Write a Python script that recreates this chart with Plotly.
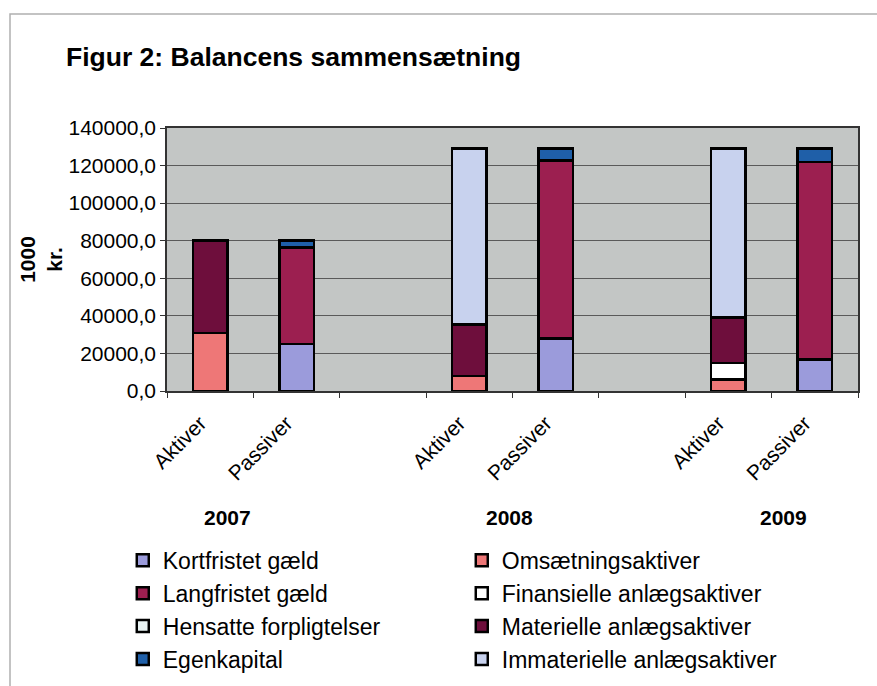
import plotly.graph_objects as go

# ---- data ----
categories = ["2007 Aktiver", "2007 Passiver", " ", "2008 Aktiver", "2008 Passiver", "  ",
              "2009 Aktiver", "2009 Passiver"]
tick_labels = ["Aktiver", "Passiver", "", "Aktiver", "Passiver", "", "Aktiver", "Passiver"]
aktiver_x = ["2007 Aktiver", "2008 Aktiver", "2009 Aktiver"]
passiver_x = ["2007 Passiver", "2008 Passiver", "2009 Passiver"]
years = ["2007", "2008", "2009"]

kortfristet_gaeld = [25000, 28000, 16700]
langfristet_gaeld = [51400, 94600, 105300]
hensatte_forpligtelser = [0, 0, 0]
egenkapital = [3600, 6400, 7000]

omsaetningsaktiver = [31000, 8000, 6000]
finansielle_anlaeg = [0, 0, 9000]
materielle_anlaeg = [49000, 27500, 24000]
immaterielle_anlaeg = [0, 93500, 90000]

# legend order fills row-wise: col1 = liabilities, col2 = assets
series = [
    ("Kortfristet gæld", passiver_x, kortfristet_gaeld, "#9B9BDB"),
    ("Omsætningsaktiver", aktiver_x, omsaetningsaktiver, "#EE7777"),
    ("Langfristet gæld", passiver_x, langfristet_gaeld, "#9C1F50"),
    ("Finansielle anlægsaktiver", aktiver_x, finansielle_anlaeg, "#FFFFFF"),
    ("Hensatte forpligtelser", passiver_x, hensatte_forpligtelser, "#EAF4F4"),
    ("Materielle anlægsaktiver", aktiver_x, materielle_anlaeg, "#6E0E3C"),
    ("Egenkapital", passiver_x, egenkapital, "#1F5FA8"),
    ("Immaterielle anlægsaktiver", aktiver_x, immaterielle_anlaeg, "#C8D2EE"),
]

FONT = "Liberation Sans, Arial, sans-serif"

fig = go.Figure()
for name, xs, vals, col in series:
    fig.add_trace(go.Bar(
        name=name, x=xs, y=vals, width=0.4,
        marker=dict(color=col, line=dict(color="#000000", width=2.5)),
    ))

fig.update_layout(
    barmode="stack",
    width=877, height=686,
    margin=dict(l=167, r=19, t=128, b=295, autoexpand=False),
    paper_bgcolor="white",
    plot_bgcolor="#C3C6C5",
    separators=",.",
    font=dict(family=FONT, color="black", size=21),
    showlegend=True,
    title=dict(text="<b>Figur 2: Balancens sammensætning</b>",
               x=66 / 877, xanchor="left", y=1 - 57 / 686, yanchor="middle",
               font=dict(size=26.5, family=FONT, color="black")),
    legend=dict(orientation="h", x=-0.064, xanchor="left", y=-0.562, yanchor="top",
                traceorder="normal", entrywidth=294, entrywidthmode="pixels",
                font=dict(size=23, family=FONT, color="black"),
                bgcolor="rgba(0,0,0,0)", itemclick=False),
)

fig.update_xaxes(
    type="category", categoryorder="array", categoryarray=categories,
    range=[-0.5, 7.5],
    tickmode="array", tickvals=categories, ticktext=tick_labels,
    tickangle=-45, tickson="boundaries", ticks="outside", ticklen=5, tickcolor="#333",
    ticklabelstandoff=10, ticklabelshift=-10,
    showline=True, linecolor="#333", linewidth=1.5, mirror=True,
    showgrid=False, automargin=False,
    tickfont=dict(size=21, family=FONT, color="black"),
)
fig.update_yaxes(
    range=[0, 140000], dtick=20000, tickformat=".1f",
    ticks="outside", ticklen=5, tickcolor="#333",
    showline=True, linecolor="#333", linewidth=1.5, mirror=True,
    showgrid=True, gridcolor="#5A5A5A", gridwidth=1,
    zeroline=False, automargin=False,
    tickfont=dict(size=21, family=FONT, color="black"),
    title=dict(text="<b>1000<br>kr.</b>", standoff=0,
               font=dict(size=21, family=FONT, color="black")),
)

# year labels under the groups
year_pos = [0.2, 3.47, 6.64]
for yr, xp in zip(years, year_pos):
    fig.add_annotation(text="<b>" + yr + "</b>", x=xp, xref="x",
                       y=(391 - 517) / 263, yref="paper", yanchor="middle", xanchor="center",
                       showarrow=False, font=dict(size=21, family=FONT, color="black"))

# faint outer frame
fig.add_shape(type="rect", xref="paper", yref="paper",
              x0=(10 - 167) / 691, x1=(900 - 167) / 691,
              y0=(391 - 720) / 263, y1=(391 - 14) / 263,
              line=dict(color="#B0B0B0", width=1.5), fillcolor="rgba(0,0,0,0)", layer="below")

fig.write_html("out.html", post_script="document.body.style.margin='0px';",
               config={"displayModeBar": False})
